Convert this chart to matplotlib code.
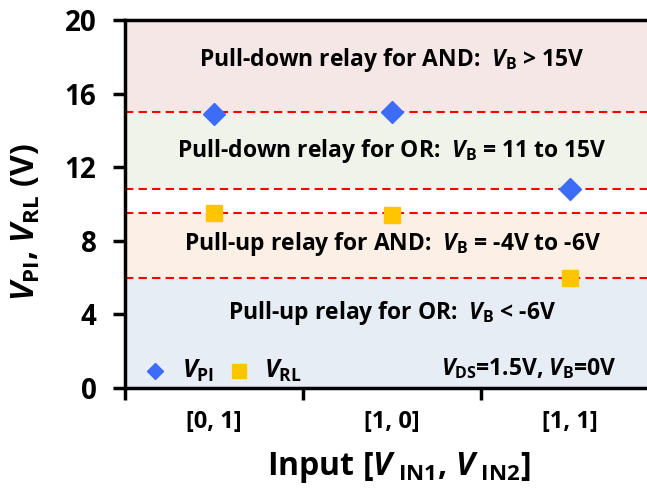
import matplotlib
matplotlib.use('Agg')
import matplotlib.pyplot as plt

plt.rcParams['font.family'] = ['Open Sans', 'DejaVu Sans']
plt.rcParams['font.weight'] = 'bold'
plt.rcParams['mathtext.fontset'] = 'custom'
plt.rcParams['mathtext.rm'] = 'Open Sans:bold'
plt.rcParams['mathtext.it'] = 'Open Sans:bold:italic'
plt.rcParams['mathtext.bf'] = 'Open Sans:bold'

inputs = ['[0, 1]', '[1, 0]', '[1, 1]']
v_pi = [14.9, 15.0, 10.8]
v_rl = [9.5, 9.4, 6.0]

# operating regions: (low, high, colour, label, label y)
regions = [
    (15.0, 20.0, '#f5e7e6', r'Pull-down relay for AND:  $V_{\mathrm{B}}$ > 15V', 17.8),
    (10.8, 15.0, '#f0f3ea', r'Pull-down relay for OR:  $V_{\mathrm{B}}$ = 11 to 15V', 12.9),
    (6.0, 9.5, '#fcefe6', r'Pull-up relay for AND:  $V_{\mathrm{B}}$ = -4V to -6V', 7.8),
    (0.0, 6.0, '#e7edf5', r'Pull-up relay for OR:  $V_{\mathrm{B}}$ < -6V', 4.1),
]
boundaries = [15.0, 10.8, 9.5, 6.0]

fig = plt.figure(figsize=(6.47, 4.88), dpi=100)
ax = fig.add_axes([0.193, 0.205, 0.807, 0.754])

xpos = [i + 0.5 for i in range(len(inputs))]

for lo, hi, col, label, ty in regions:
    ax.axhspan(lo, hi, color=col, zorder=0, lw=0)
    ax.text(1.5, ty, label, ha='center', va='center', fontsize=16.5, fontweight='bold')

for b in boundaries:
    ax.axhline(b, color='#ff0000', ls=(0, (4, 2.5)), lw=1.5, zorder=1)

ax.plot(xpos, v_pi, 'D', color='#3d6cf7', ms=11, ls='none', zorder=3)
ax.plot(xpos, v_rl, 's', color='#ffc600', ms=11.5, ls='none', zorder=3)

# legend drawn inside the lower band
ax.plot([0.17], [0.9], 'D', color='#3d6cf7', ms=8.5, clip_on=False)
ax.text(0.32, 0.95, r'$V_{\mathrm{PI}}$', fontsize=18, va='center')
ax.plot([0.64], [0.9], 's', color='#ffc600', ms=10, clip_on=False)
ax.text(0.78, 0.95, r'$V_{\mathrm{RL}}$', fontsize=18, va='center')
ax.text(2.76, 1.05, r'$V_{\mathrm{DS}}$=1.5V, $V_{\mathrm{B}}$=0V', fontsize=16.5,
        ha='right', va='center')

ax.set_xlim(0, 2.93)
ax.set_ylim(0, 20)
ax.set_yticks([0, 4, 8, 12, 16, 20])
ax.set_xticks([0, 1, 2])
ax.set_xticklabels([])
ax.set_xticks(xpos, minor=True)
ax.set_xticklabels(inputs, minor=True, fontsize=17, fontweight='bold')
ax.tick_params(axis='x', which='minor', length=0, pad=16)
ax.tick_params(axis='x', which='major', direction='out', length=8.5, width=2.5)
ax.tick_params(axis='y', direction='out', length=8.5, width=2.5, labelsize=20, pad=12)
for t in ax.get_yticklabels():
    t.set_fontweight('bold')

for s in ['top', 'left', 'bottom']:
    ax.spines[s].set_linewidth(2.5)
ax.spines['right'].set_visible(False)

ax.set_ylabel(r'$V_{\mathrm{PI}}$, $V_{\mathrm{RL}}$ (V)', fontsize=23, fontweight='bold')
ax.set_xlabel(r'Input [$V_{\mathrm{\ IN1}}$, $V_{\mathrm{\ IN2}}$]', fontsize=23,
              fontweight='bold')
ax.yaxis.set_label_coords(-0.158, 0.45)
ax.xaxis.set_label_coords(0.525, -0.168)

fig.savefig('out.png', dpi=100)
